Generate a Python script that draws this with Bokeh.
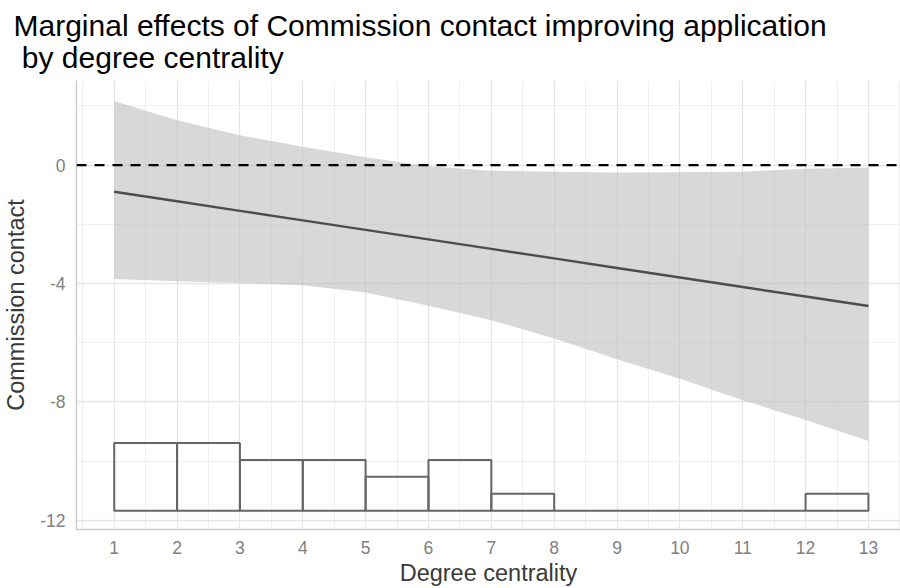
from bokeh.plotting import figure
from bokeh.models import Range1d, FixedTicker, Span
from bokeh.embed import file_html
from bokeh.resources import INLINE

# Degree centrality grid where marginal effects were evaluated
degree = [1, 2, 3, 4, 5, 6, 7, 8, 9, 10, 11, 12, 13]
# Marginal effect of Commission contact (point estimate, linear in degree)
effect_start, effect_end = -0.90, -4.76
effect = [effect_start + (effect_end - effect_start) * (d - 1) / 12 for d in degree]
# Simulated confidence bounds
upper = [2.17, 1.52, 1.01, 0.62, 0.27, -0.04, -0.19, -0.22, -0.25, -0.24, -0.22, -0.12, -0.08]
lower = [-3.85, -3.92, -3.98, -4.06, -4.30, -4.75, -5.24, -5.86, -6.56, -7.22, -7.94, -8.61, -9.32]

# Distribution of degree centrality (unit-width bins from 1 to 13)
bin_edges = [1, 2, 3, 4, 5, 6, 7, 8, 9, 10, 11, 12, 13]
bin_counts = [4, 4, 3, 3, 2, 3, 1, 0, 0, 0, 0, 1]

x_ticks = [1, 2, 3, 4, 5, 6, 7, 8, 9, 10, 11, 12, 13]
y_ticks = [-12, -8, -4, 0]
y_tick_labels = ["-12", "-8", "-4", "0"]

# the histogram sits along the bottom of the panel
hist_base = -11.68
hist_unit = 0.574
hist_top = [hist_base + c * hist_unit for c in bin_counts]

FONT = "Liberation Sans"

p = figure(
    width=900, height=588,
    x_range=Range1d(0.4, 13.51), y_range=Range1d(-12.31, 2.86),
    output_backend="svg", toolbar_location=None,
    min_border_left=72, min_border_right=0, min_border_top=80, min_border_bottom=57,
    title="Marginal effects of Commission contact improving application\n\u00a0by degree centrality",
)
p.outline_line_color = None
p.background_fill_color = "white"
p.border_fill_color = "white"

p.title.text_font = FONT
p.title.text_font_size = "30px"
p.title.text_font_style = "normal"
p.title.text_color = "#000000"
p.title.text_line_height = 0.97
p.title.offset = -63
p.title.standoff = 13

# ticks and grid
p.xaxis.ticker = FixedTicker(ticks=x_ticks, minor_ticks=[t - 0.5 for t in x_ticks] + [13.5])
p.yaxis.ticker = FixedTicker(ticks=y_ticks, minor_ticks=[-10, -6, -2, 2])
p.yaxis.major_label_overrides = dict(zip(y_ticks, y_tick_labels))

for ax in (p.xaxis, p.yaxis):
    ax.axis_line_color = "#cccccc"
    ax.axis_line_width = 1.5
    ax.major_tick_line_color = None
    ax.minor_tick_line_color = None
    ax.major_tick_in = 0
    ax.major_tick_out = 0
    ax.minor_tick_in = 0
    ax.minor_tick_out = 0
    ax.major_label_text_font = FONT
    ax.major_label_text_font_size = "17.5px"
    ax.major_label_text_color = "#808080"
    ax.axis_label_text_font = FONT
    ax.axis_label_text_font_size = "23.5px"
    ax.axis_label_text_font_style = "normal"
    ax.axis_label_text_color = "#3a3a3a"
    ax.major_label_standoff = 11

p.xaxis.axis_label = "Degree centrality"
p.yaxis.axis_label = "Commission contact"
p.xaxis.axis_label_standoff = 3
p.yaxis.axis_label_standoff = 8

for g in (p.xgrid, p.ygrid):
    g.grid_line_color = "#e6e6e6"
    g.grid_line_width = 1.3
    g.minor_grid_line_color = "#efefef"
    g.minor_grid_line_width = 1.0

# confidence band
p.varea(x=degree, y1=lower, y2=upper, fill_color="#bebebe", fill_alpha=0.6)

# reference line at zero
p.add_layout(Span(location=0, dimension="width", line_color="black",
                  line_width=2.4, line_dash="10 8"))

# marginal effect line
p.line(x=degree, y=effect, line_color="#4d4d4d", line_width=2.4)

# histogram of degree centrality
p.quad(left=bin_edges[:-1], right=bin_edges[1:], bottom=hist_base, top=hist_top,
       fill_color=None, line_color="#666666", line_width=2)

open("out.html", "w").write(file_html(p, INLINE))
